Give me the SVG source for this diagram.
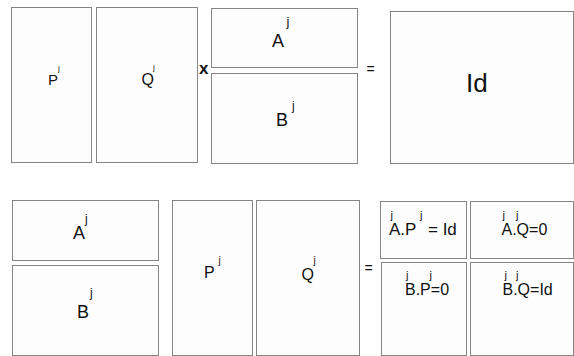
<svg xmlns="http://www.w3.org/2000/svg" width="574" height="356" viewBox="0 0 574 356">
<style>
rect.box{fill:#fdfdfd;stroke:#858585;stroke-width:1}
text{font-family:"Liberation Sans",Arial,sans-serif;fill:#111}
.sup{font-size:11px}
</style>
<rect width="574" height="356" fill="#ffffff"/>
<g id="top-P"><rect class="box" x="11.5" y="7.5" width="80" height="155"/><text x="48" y="85" font-size="15">P</text><text class="sup" x="58" y="70.5" style="font-size:8px">j</text></g>
<g id="top-Q"><rect class="box" x="96.5" y="7.5" width="101" height="155"/><text x="141.5" y="85" font-size="16">Q</text><text class="sup" x="153" y="70" style="font-size:8px">j</text></g>
<g id="top-A"><rect class="box" x="211.5" y="8.5" width="146" height="59"/><text x="272" y="47" font-size="18">A</text><text class="sup" x="286.5" y="26" style="font-size:13px">j</text></g>
<g id="top-B"><rect class="box" x="211.5" y="73.5" width="146" height="90"/><text x="276" y="126" font-size="18">B</text><text class="sup" x="292" y="110" style="font-size:12px">j</text></g>
<g id="top-Id"><rect class="box" x="390.5" y="11.5" width="183" height="152"/><text x="466" y="92" font-size="26">Id</text></g>
<g id="bot-A"><rect class="box" x="12.5" y="200.5" width="146" height="60"/><text x="73" y="239" font-size="18">A</text><text class="sup" x="85" y="223" style="font-size:12px">j</text></g>
<g id="bot-B"><rect class="box" x="12.5" y="265.5" width="146" height="90"/><text x="77" y="318" font-size="18">B</text><text class="sup" x="90" y="297" style="font-size:12px">j</text></g>
<g id="bot-P"><rect class="box" x="172.5" y="200.5" width="80" height="155"/><text x="204" y="278" font-size="16">P</text><text class="sup" x="218.5" y="264" style="font-size:10px">j</text></g>
<g id="bot-Q"><rect class="box" x="256.5" y="200.5" width="103" height="155"/><text x="301.5" y="280" font-size="16">Q</text><text class="sup" x="313.5" y="264" style="font-size:10px">j</text></g>
<g id="res-AP"><rect class="box" x="380.5" y="201.5" width="86" height="57"/><text x="389" y="235" font-size="17">A.P</text><text x="428" y="235" font-size="17">= Id</text><text class="sup" x="390.5" y="219">j</text><text class="sup" x="420" y="219">j</text></g>
<g id="res-AQ"><rect class="box" x="470.5" y="201.5" width="103" height="57"/><text x="501.5" y="235" font-size="16">A.Q=0</text><text class="sup" x="502.5" y="219">j</text><text class="sup" x="516" y="219">j</text></g>
<g id="res-BP"><rect class="box" x="381.5" y="262.5" width="85" height="93"/><text x="405" y="295" font-size="16">B.P=0</text><text class="sup" x="406" y="279">j</text><text class="sup" x="429.5" y="279">j</text></g>
<g id="res-BQ"><rect class="box" x="470.5" y="262.5" width="103" height="93"/><text x="502.5" y="295" font-size="16">B.Q=Id</text><text class="sup" x="504.5" y="279">j</text><text class="sup" x="516" y="279">j</text></g>
<g id="connectors">
<text x="199" y="73.5" font-size="17" font-weight="bold">x</text>
<text x="366.5" y="74" font-size="14">=</text>
<text x="364.5" y="273" font-size="14">=</text>
</g>
</svg>
